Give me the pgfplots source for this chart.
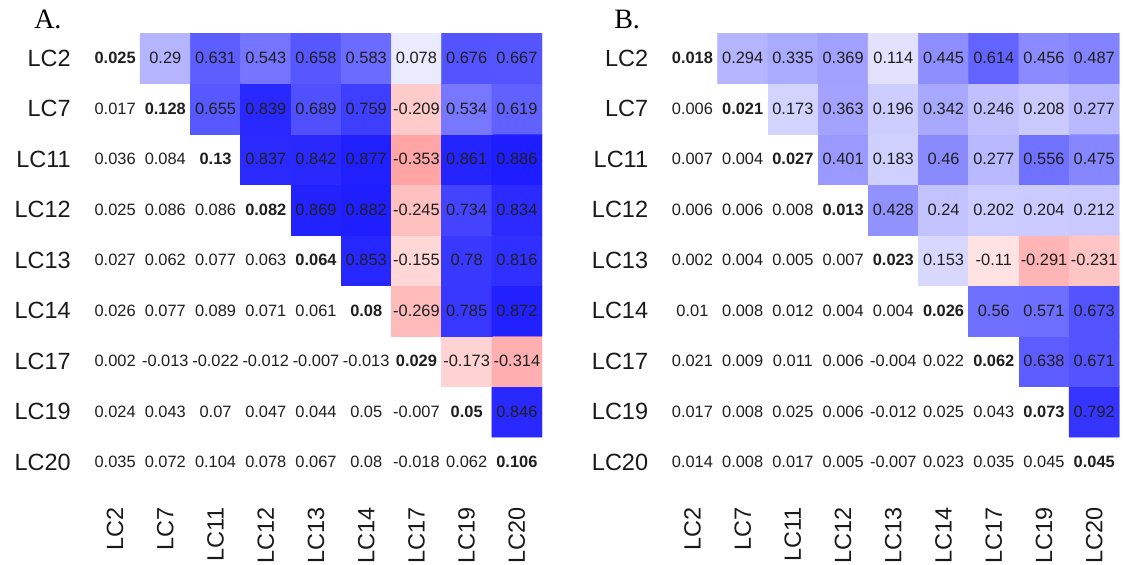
\documentclass[border=0pt]{standalone}
\usepackage{fontspec}
\setmainfont{Liberation Sans}
\newfontfamily\panelfont{Liberation Serif}
\usepackage{pgfplots}
\usepackage{pgfplotstable}
\pgfplotsset{compat=1.18}

% Long format: x = column (LC2 ... LC20), y = row counted from the bottom (LC20 = 0 ... LC2 = 8).
% Cells with x + y > 8 form the coloured upper triangle, x + y = 8 is the diagonal.
\pgfplotstableread[row sep=\\]{
x y v \\
0 0 0.035 \\ 1 0 0.072 \\ 2 0 0.104 \\ 3 0 0.078 \\ 4 0 0.067 \\ 5 0 0.08 \\ 6 0 -0.018 \\ 7 0 0.062 \\ 8 0 0.106 \\
0 1 0.024 \\ 1 1 0.043 \\ 2 1 0.07 \\ 3 1 0.047 \\ 4 1 0.044 \\ 5 1 0.05 \\ 6 1 -0.007 \\ 7 1 0.05 \\ 8 1 0.846 \\
0 2 0.002 \\ 1 2 -0.013 \\ 2 2 -0.022 \\ 3 2 -0.012 \\ 4 2 -0.007 \\ 5 2 -0.013 \\ 6 2 0.029 \\ 7 2 -0.173 \\ 8 2 -0.314 \\
0 3 0.026 \\ 1 3 0.077 \\ 2 3 0.089 \\ 3 3 0.071 \\ 4 3 0.061 \\ 5 3 0.08 \\ 6 3 -0.269 \\ 7 3 0.785 \\ 8 3 0.872 \\
0 4 0.027 \\ 1 4 0.062 \\ 2 4 0.077 \\ 3 4 0.063 \\ 4 4 0.064 \\ 5 4 0.853 \\ 6 4 -0.155 \\ 7 4 0.78 \\ 8 4 0.816 \\
0 5 0.025 \\ 1 5 0.086 \\ 2 5 0.086 \\ 3 5 0.082 \\ 4 5 0.869 \\ 5 5 0.882 \\ 6 5 -0.245 \\ 7 5 0.734 \\ 8 5 0.834 \\
0 6 0.036 \\ 1 6 0.084 \\ 2 6 0.13 \\ 3 6 0.837 \\ 4 6 0.842 \\ 5 6 0.877 \\ 6 6 -0.353 \\ 7 6 0.861 \\ 8 6 0.886 \\
0 7 0.017 \\ 1 7 0.128 \\ 2 7 0.655 \\ 3 7 0.839 \\ 4 7 0.689 \\ 5 7 0.759 \\ 6 7 -0.209 \\ 7 7 0.534 \\ 8 7 0.619 \\
0 8 0.025 \\ 1 8 0.29 \\ 2 8 0.631 \\ 3 8 0.543 \\ 4 8 0.658 \\ 5 8 0.583 \\ 6 8 0.078 \\ 7 8 0.676 \\ 8 8 0.667 \\
}\corrA

\pgfplotstableread[row sep=\\]{
x y v \\
0 0 0.014 \\ 1 0 0.008 \\ 2 0 0.017 \\ 3 0 0.005 \\ 4 0 -0.007 \\ 5 0 0.023 \\ 6 0 0.035 \\ 7 0 0.045 \\ 8 0 0.045 \\
0 1 0.017 \\ 1 1 0.008 \\ 2 1 0.025 \\ 3 1 0.006 \\ 4 1 -0.012 \\ 5 1 0.025 \\ 6 1 0.043 \\ 7 1 0.073 \\ 8 1 0.792 \\
0 2 0.021 \\ 1 2 0.009 \\ 2 2 0.011 \\ 3 2 0.006 \\ 4 2 -0.004 \\ 5 2 0.022 \\ 6 2 0.062 \\ 7 2 0.638 \\ 8 2 0.671 \\
0 3 0.01 \\ 1 3 0.008 \\ 2 3 0.012 \\ 3 3 0.004 \\ 4 3 0.004 \\ 5 3 0.026 \\ 6 3 0.56 \\ 7 3 0.571 \\ 8 3 0.673 \\
0 4 0.002 \\ 1 4 0.004 \\ 2 4 0.005 \\ 3 4 0.007 \\ 4 4 0.023 \\ 5 4 0.153 \\ 6 4 -0.11 \\ 7 4 -0.291 \\ 8 4 -0.231 \\
0 5 0.006 \\ 1 5 0.006 \\ 2 5 0.008 \\ 3 5 0.013 \\ 4 5 0.428 \\ 5 5 0.24 \\ 6 5 0.202 \\ 7 5 0.204 \\ 8 5 0.212 \\
0 6 0.007 \\ 1 6 0.004 \\ 2 6 0.027 \\ 3 6 0.401 \\ 4 6 0.183 \\ 5 6 0.46 \\ 6 6 0.277 \\ 7 6 0.556 \\ 8 6 0.475 \\
0 7 0.006 \\ 1 7 0.021 \\ 2 7 0.173 \\ 3 7 0.363 \\ 4 7 0.196 \\ 5 7 0.342 \\ 6 7 0.246 \\ 7 7 0.208 \\ 8 7 0.277 \\
0 8 0.018 \\ 1 8 0.294 \\ 2 8 0.335 \\ 3 8 0.369 \\ 4 8 0.114 \\ 5 8 0.445 \\ 6 8 0.614 \\ 7 8 0.456 \\ 8 8 0.487 \\
}\corrB

\pgfplotsset{
  corrpanel/.style={
    scale only axis, width=339pt, height=340.875pt,
    anchor=south west,
    xmin=-0.5, xmax=8.5, ymin=-0.5, ymax=8.5,
    axis line style={draw=none}, major tick length=0pt,
    xtick={0,...,8}, ytick={0,...,8},
    xticklabels={LC2,LC7,LC11,LC12,LC13,LC14,LC17,LC19,LC20},
    yticklabels={LC20,LC19,LC17,LC14,LC13,LC12,LC11,LC7,LC2},
    tick label style={font=\fontsize{17.6}{20}\selectfont, inner sep=0pt, text=black!90},
    % after the rotation a negative xshift moves the label down, away from the grid
    xticklabel style={rotate=90, anchor=east, xshift=-14.6pt},
    yticklabel style={anchor=east, xshift=-14.25pt},
    colormap={corr}{rgb255=(255,0,0) rgb255=(255,255,255) rgb255=(0,0,255)},
    point meta min=-1, point meta max=1,
  },
  cells/.style={
    matrix plot*, mesh/cols=9,
    point meta={\thisrow{v}*(\thisrow{x}+\thisrow{y}>8.5)},
  },
  cellvalues/.style={
    only marks, mark=none, point meta=explicit symbolic,
    visualization depends on={\thisrow{x}+\thisrow{y} \as \cs},
    nodes near coords={\ifdim\cs pt=8pt \bfseries\fi\pgfplotspointmeta},
    nodes near coords align=center,
    every node near coord/.append style={anchor=center, inner sep=0pt,
      font=\fontsize{12.3}{14}\selectfont, text=black!88},
  },
}

\begin{document}
\begin{tikzpicture}
\useasboundingbox (0,0) rectangle (842.25pt,423pt);

\node[anchor=base west, inner sep=0pt, font=\panelfont\fontsize{21}{24}\selectfont] at (25.5pt,401.25pt) {A.};
\node[anchor=base west, inner sep=0pt, font=\panelfont\fontsize{21}{24}\selectfont] at (460.5pt,401.25pt) {B.};

\begin{axis}[corrpanel, at={(67.5pt,57.375pt)}]
  \addplot[cells] table {\corrA};
  \addplot[cellvalues] table[meta=v] {\corrA};
\end{axis}

\begin{axis}[corrpanel, at={(500.5pt,57.375pt)}]
  \addplot[cells] table {\corrB};
  \addplot[cellvalues] table[meta=v] {\corrB};
\end{axis}
\end{tikzpicture}
\end{document}
